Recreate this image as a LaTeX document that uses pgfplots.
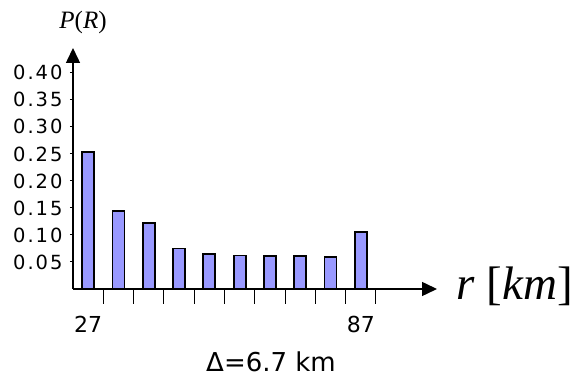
\documentclass[border=0pt]{standalone}
\usepackage{fontspec}
\usepackage{pgfplots}
\pgfplotsset{compat=1.18}
\usetikzlibrary{arrows.meta}
\setmainfont{DejaVu Sans}
\newfontfamily\ticksans[LetterSpace=10]{DejaVu Sans}
\newfontfamily\tnr{Liberation Serif}
\definecolor{barfill}{RGB}{153,153,255}

\begin{document}
\begin{tikzpicture}[x=1pt,y=1pt]
\begin{axis}[
  at={(73pt,88pt)}, anchor=south west,
  scale only axis,
  width=364pt, height=241pt,
  xmin=23.65, xmax=104.15,
  ymin=0, ymax=0.446,
  axis lines=left,
  x axis line style={line width=1.5pt,-{Triangle[length=15pt,width=14pt]}},
  y axis line style={line width=1.5pt,-{Triangle[length=15pt,width=14pt]}},
  tick style={black, line width=1pt},
  tick align=outside,
  major tick length=3pt,
  % labelled bin centres
  xtick={27,87.3},
  xticklabels={27,87},
  x tick style={draw=none},
  xticklabel style={font=\fontsize{22}{22}\selectfont, yshift=-21pt},
  % bin edges
  extra x ticks={30.35,37.05,43.75,50.45,57.15,63.85,70.55,77.25,83.95,90.65},
  extra x tick labels={},
  extra x tick style={major tick length=15pt, x tick style={draw=black}},
  ytick={0.05,0.10,0.15,0.20,0.25,0.30,0.35,0.40},
  yticklabels={0.05,0.10,0.15,0.20,0.25,0.30,0.35,0.40},
  yticklabel style={font=\ticksans\fontsize{19.5}{19.5}\selectfont, xshift=-4pt},
  bar width=12pt,
  clip=false,
]
\addplot[ybar, fill=barfill, draw=black, line width=1.8pt] coordinates {
  (27,0.254) (33.7,0.145) (40.4,0.122) (47.1,0.075) (53.8,0.065)
  (60.5,0.062) (67.2,0.061) (73.9,0.061) (80.6,0.059) (87.3,0.106)
};
\end{axis}
% axis titles
\node at (83pt,355pt) {\tnr\fontsize{25}{25}\selectfont\itshape P\upshape(\itshape R\upshape)};
\node at (515pt,91pt) {\tnr\fontsize{47}{47}\selectfont\itshape r \upshape[\itshape km\upshape]};
\node at (271pt,15pt) {\fontsize{26}{26}\selectfont Δ=6.7 km};
\pgfresetboundingbox
\useasboundingbox (0,0) rectangle (573pt,377pt);
\end{tikzpicture}
\end{document}
